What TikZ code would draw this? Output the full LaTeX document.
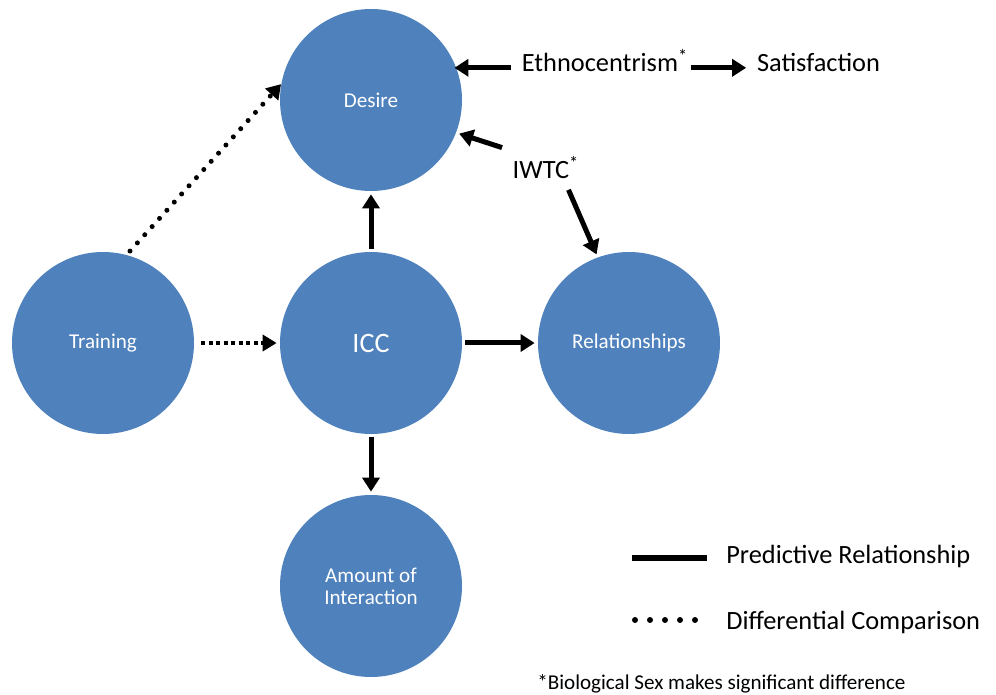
\documentclass[tikz,border=0pt]{standalone}
\usepackage{fontspec}
\setmainfont{Carlito}
\usetikzlibrary{arrows.meta,shapes,calc}
\definecolor{bubbleblue}{HTML}{4F81BD}

\tikzset{
  bubble/.style={circle, fill=bubbleblue, text=white, minimum size=3.64cm, inner sep=0pt, align=center, font=\fontsize{12}{12.5}\selectfont},
  factor/.style={inner sep=0.16cm, font=\fontsize{15}{18}\selectfont},
  pred/.style={line width=0.1cm, shorten <=0.05cm, shorten >=0.06cm, -{Triangle[length=0.28cm,width=0.34cm]}},
  diffdot/.style={line width=0.1cm, line cap=round, dash pattern=on 0pt off 0.22cm, -{Triangle[length=0.28cm,width=0.34cm]}},
  diffsq/.style={line width=0.08cm, dash pattern=on 0.08cm off 0.07cm, -{Triangle[length=0.28cm,width=0.32cm]}}
}

\begin{document}
\begin{tikzpicture}
    \useasboundingbox (0, 0) rectangle (19.92, 13.88);

    \node[bubble] (desire) at (7.42, 11.88) {Desire};
    \node[bubble, font=\fontsize{16}{19}\selectfont] (icc) at (7.42, 7.02) {ICC};
    \node[bubble] (training) at (2.06, 7.02) {Training};
    \node[bubble] (rel) at (12.58, 7.02) {Relationships};
    \node[bubble] (amount) at (7.42, 2.16) {Amount of\\Interaction};

    \node[factor, anchor=base] (ethno) at (12.10, 12.44) {Ethnocentrism\textsuperscript{*}};
    \node[factor, anchor=base] (satis) at (16.37, 12.44) {Satisfaction};
    \node[factor, anchor=base] (iwtc) at (10.92, 10.30) {IWTC\textsuperscript{*}};

    \draw[pred] (icc) -- (desire);
    \draw[pred] (icc) -- (rel);
    \draw[pred] (icc) -- (amount);
    \draw[pred, shorten >=0cm] (ethno.mid west) -- (ethno.mid west -| desire.24);
    \draw[pred, shorten <=-0.12cm, shorten >=0.05cm] (ethno.mid east) -- (satis.mid west);
    \draw[pred] (iwtc.north west) -- (desire.-21);
    \draw[pred] ([xshift=0.43cm]iwtc.south) -- (rel.110);
    \draw[diffdot, shorten <=0.1cm] (training.75) -- (desire.170);
    \draw[diffsq, shorten <=0.14cm, shorten >=0.06cm] (training) -- (icc);

    % legend
    \draw[line width=0.12cm] (12.64, 2.72) -- (14.14, 2.72);
    \foreach \i in {0,...,4}
        \fill (12.7+0.3*\i, 1.48) circle (0.06);
    \node[factor, anchor=base west] (predlabel) at (14.36, 2.62) {Predictive Relationship};
    \node[factor, anchor=base west] (difflabel) at (14.36, 1.30) {Differential Comparison};
    \node[factor, anchor=base west, font=\fontsize{12}{14}\selectfont] (footnote) at (10.58, 0.10) {*Biological Sex makes significant difference};
\end{tikzpicture}
\end{document}
